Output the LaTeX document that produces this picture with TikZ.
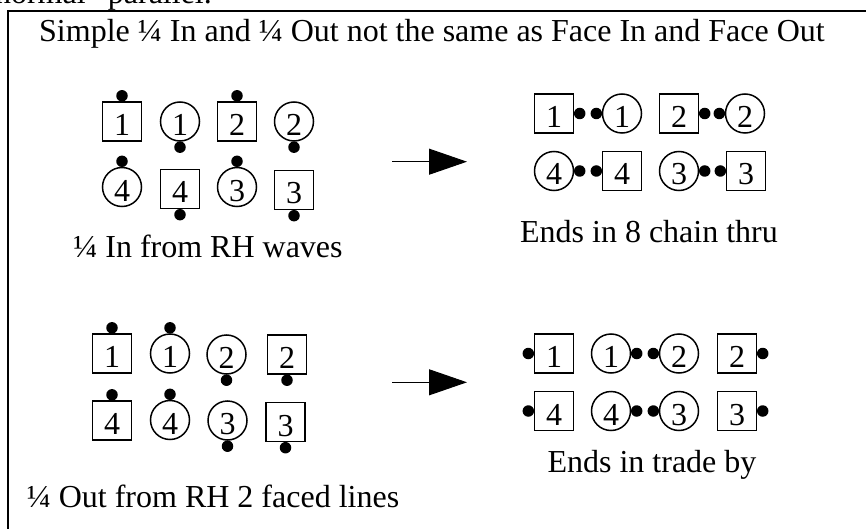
\documentclass[tikz,border=0pt]{standalone}
\usepackage{fontspec}
\setmainfont{Liberation Serif}
\usetikzlibrary{arrows.meta,positioning}

\tikzset{
  txt/.style={font=\fontsize{32}{38}\selectfont},
  dancer/.style={txt, draw, line width=1.5pt, minimum size=39pt, inner sep=0pt,
                 text height=28pt, text depth=0pt},
  boy/.style={dancer, rectangle},
  girl/.style={dancer, circle},
  nose/.style={circle, fill, draw=none, inner sep=0pt, minimum size=11.5pt},
  caption/.style={txt, inner sep=0pt},
  turnarrow/.style={line width=1pt, -{Triangle[width=26pt,length=38pt]}},
  frame/.style={line width=1.8pt}
}

% one dancer: name, shape style, x, y, number, side the nose points to
\newcommand\placedancer[6]{%
  \node[#2] (#1) at (#3,#4) {#5};
  \node[nose, #6=-0.5pt of #1] (#1n) {};
}

\begin{document}
\begin{tikzpicture}[x=1pt, y=-1pt]
  \useasboundingbox (0,0) rectangle (866,529);
  \clip (0,0) rectangle (866,529);

  % tail of the preceding paragraph
  \node[caption, anchor=base east] (prevline) at (212,4) {``normal'' parallel.};

  % frame
  \coordinate (fbl) at (8,540);
  \coordinate (ftl) at (8,11);
  \coordinate (ftr) at (880,11);
  \draw[frame] (fbl) -- (ftl) -- (ftr);

  \node[caption, anchor=base] (title) at (432,42)
    {Simple ¼ In and ¼ Out not the same as Face In and Face Out};

  % 1/4 In from right-hand waves
  \placedancer{a1}{boy}{122}{121.5}{1}{above}
  \placedancer{a2}{girl}{180}{121.5}{1}{below}
  \placedancer{a3}{boy}{237}{121.5}{2}{above}
  \placedancer{a4}{girl}{294}{121.5}{2}{below}
  \placedancer{a5}{girl}{122}{187}{4}{above}
  \placedancer{a6}{boy}{180}{189}{4}{below}
  \placedancer{a7}{girl}{237}{187}{3}{above}
  \placedancer{a8}{boy}{294}{190}{3}{below}
  \node[caption, anchor=base] (capa) at (208,257) {¼ In from RH waves};

  \coordinate (arra) at (392,161.7);
  \coordinate (arrb) at (467,161.7);
  \draw[turnarrow] (arra) -- (arrb);

  % result: eight chain thru
  \placedancer{b1}{boy}{554}{113.5}{1}{right}
  \placedancer{b2}{girl}{622}{113.5}{1}{left}
  \placedancer{b3}{boy}{679}{113.5}{2}{right}
  \placedancer{b4}{girl}{745}{113.5}{2}{left}
  \placedancer{b5}{girl}{554}{171}{4}{right}
  \placedancer{b6}{boy}{622}{171}{4}{left}
  \placedancer{b7}{girl}{679}{171}{3}{right}
  \placedancer{b8}{boy}{746}{171}{3}{left}
  \node[caption, anchor=base] (capb) at (649,242) {Ends in 8 chain thru};

  % 1/4 Out from right-hand two-faced lines
  \placedancer{c1}{boy}{112}{353.5}{1}{above}
  \placedancer{c2}{girl}{170}{353.5}{1}{above}
  \placedancer{c3}{girl}{226.5}{354.5}{2}{below}
  \placedancer{c4}{boy}{287}{354.5}{2}{below}
  \placedancer{c5}{boy}{112}{420.5}{4}{above}
  \placedancer{c6}{girl}{170}{420}{4}{above}
  \placedancer{c7}{girl}{227.5}{420.5}{3}{below}
  \placedancer{c8}{boy}{285.5}{422}{3}{below}
  \node[caption, anchor=base] (capc) at (213,507) {¼ Out from RH 2 faced lines};

  \coordinate (arrc) at (392,382.3);
  \coordinate (arrd) at (467,382.3);
  \draw[turnarrow] (arrc) -- (arrd);

  % result: trade by
  \placedancer{d1}{boy}{554}{353.5}{1}{left}
  \placedancer{d2}{girl}{611}{353.5}{1}{right}
  \placedancer{d3}{girl}{679}{353.5}{2}{left}
  \placedancer{d4}{boy}{737}{353.5}{2}{right}
  \placedancer{d5}{boy}{554}{411}{4}{left}
  \placedancer{d6}{girl}{611}{411}{4}{right}
  \placedancer{d7}{girl}{679}{411}{3}{left}
  \placedancer{d8}{boy}{737}{411}{3}{right}
  \node[caption, anchor=base] (capd) at (652,472) {Ends in trade by};
\end{tikzpicture}
\end{document}
